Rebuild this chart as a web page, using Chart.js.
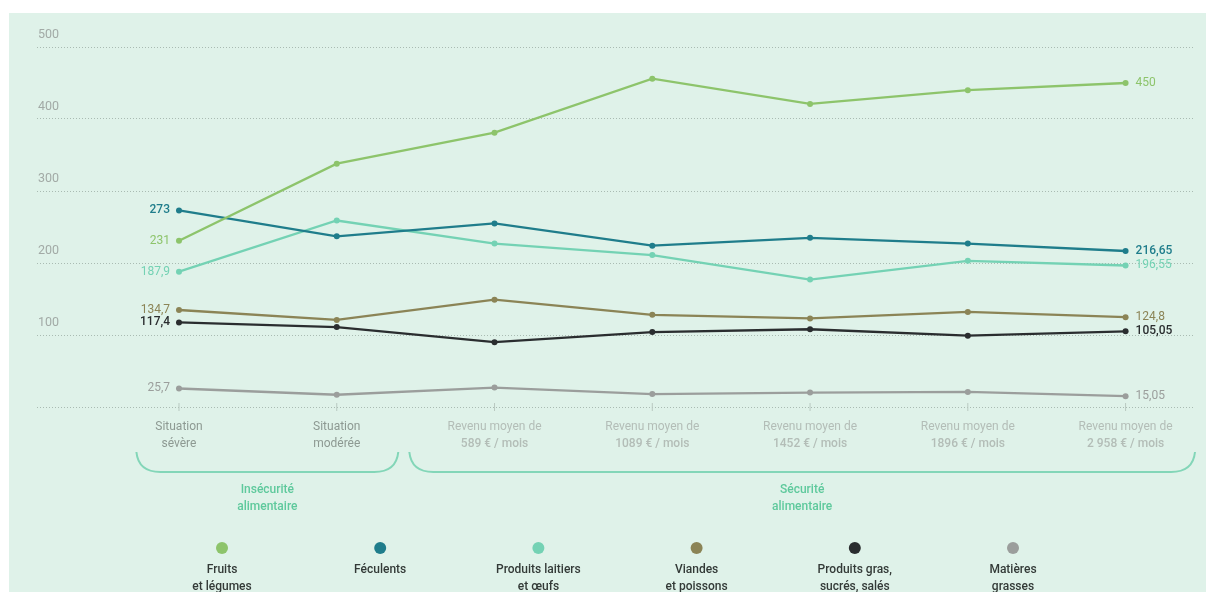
<!DOCTYPE html>
<html>
<head>
<meta charset="utf-8">
<script src="https://cdn.jsdelivr.net/npm/chart.js@4/dist/chart.umd.min.js"></script>
<style>
  html, body { margin: 0; padding: 0; background: #fff; }
  #wrap { width: 1206px; height: 592px; position: relative; }
</style>
</head>
<body>
<div id="wrap"><canvas id="budgetChart" width="1206" height="592"></canvas></div>
<script>
// DATA
const categories = [
  ["Situation", "sévère"],
  ["Situation", "modérée"],
  ["Revenu moyen de", "589 € / mois"],
  ["Revenu moyen de", "1089 € / mois"],
  ["Revenu moyen de", "1452 € / mois"],
  ["Revenu moyen de", "1896 € / mois"],
  ["Revenu moyen de", "2 958 € / mois"],
];
const fruitsLegumes = [231, 338, 381, 456, 421, 440, 450];
const feculents = [273, 237, 255, 224, 235, 227, 216.65];
const produitsLaitiers = [187.9, 259, 227, 211, 177, 203, 196.55];
const viandesPoissons = [134.7, 121, 149, 128, 123, 132, 124.8];
const produitsGras = [117.4, 111, 90, 104, 108, 99, 105.05];
const matieresGrasses = [25.7, 17, 27, 18, 20, 21, 15.05];
const yTicks = [0, 100, 200, 300, 400, 500];
const groups = [
  { label: ["Insécurité", "alimentaire"], from: 0, to: 1 },
  { label: ["Sécurité", "alimentaire"], from: 2, to: 6 },
];

const FONT = "Roboto, 'DejaVu Sans', sans-serif";

function mk(name, values, color, bold) {
  return {
    label: name,
    data: values.map((v, i) => ({ x: i, y: v })),
    borderColor: color,
    backgroundColor: color,
    borderWidth: 2.3,
    pointRadius: 3,
    pointBorderWidth: 0,
    tension: 0,
    boldEnds: bold,
  };
}

const datasets = [
  mk(["Fruits", "et légumes"], fruitsLegumes, "#8dc46b", false),
  mk(["Féculents"], feculents, "#1f7d8b", true),
  mk(["Produits laitiers", "et œufs"], produitsLaitiers, "#74d2b4", false),
  mk(["Viandes", "et poissons"], viandesPoissons, "#8b8456", false),
  mk(["Produits gras,", "sucrés, salés"], produitsGras, "#2a2d2f", true),
  mk(["Matières", "grasses"], matieresGrasses, "#9b9e9c", false),
];

function fmt(v) {
  return String(v).replace(".", ",");
}

// fond vert clair
const bgPlugin = {
  id: "bg",
  beforeDraw(chart) {
    const c = chart.ctx;
    c.save();
    c.fillStyle = "#fff";
    c.fillRect(0, 0, chart.width, chart.height);
    c.fillStyle = "#dff2e9";
    c.fillRect(9, 13, chart.width - 9, chart.height - 13);
    c.restore();
  },
};

// étiquettes, accolades, légende
const decoPlugin = {
  id: "deco",
  afterDatasetsDraw(chart) {
    const c = chart.ctx;
    const xs = chart.scales.x;
    const ys = chart.scales.y;
    const bottom = chart.chartArea.bottom;
    c.save();

    // petites marques sur l'axe
    c.strokeStyle = "#b9c9c1";
    c.lineWidth = 1;
    categories.forEach((_, i) => {
      const x = xs.getPixelForValue(i);
      c.beginPath();
      c.moveTo(x, bottom - 4);
      c.lineTo(x, bottom + 4);
      c.stroke();
    });

    // libellés de l'axe x
    c.textAlign = "center";
    c.textBaseline = "middle";
    categories.forEach((lab, i) => {
      const x = xs.getPixelForValue(i);
      const col = i < 2 ? "#8d9992" : "#b3bdb7";
      c.fillStyle = col;
      c.font = "400 12px " + FONT;
      c.fillText(lab[0], x, 427);
      c.font = (i < 2 ? "400" : "500") + " 12px " + FONT;
      c.fillText(lab[1], x, 444);
    });

    // accolades
    const step = xs.getPixelForValue(1) - xs.getPixelForValue(0);
    const ends = [[-0.27, 0.39], [-0.54, 0.44]];
    c.strokeStyle = "#83d6b8";
    c.lineWidth = 2;
    groups.forEach((g, gi) => {
      const x0 = xs.getPixelForValue(g.from) + ends[gi][0] * step;
      const x1 = Math.min(xs.getPixelForValue(g.to) + ends[gi][1] * step, chart.chartArea.right);
      const yTop = 452, yBot = 472;
      c.beginPath();
      c.moveTo(x0, yTop);
      c.quadraticCurveTo(x0 + 2, yBot, x0 + 24, yBot);
      c.lineTo(x1 - 24, yBot);
      c.quadraticCurveTo(x1 - 2, yBot, x1, yTop);
      c.stroke();
      const cx = (x0 + x1) / 2;
      c.fillStyle = "#5ec99c";
      c.font = "500 12px " + FONT;
      c.fillText(g.label[0], cx, 490);
      c.fillText(g.label[1], cx, 507);
    });

    // valeurs de début et de fin
    chart.data.datasets.forEach((ds) => {
      const first = ds.data[0];
      const last = ds.data[ds.data.length - 1];
      c.fillStyle = ds.borderColor;
      c.font = (ds.boldEnds ? "500" : "400") + " 12px " + FONT;
      c.textAlign = "right";
      c.fillText(fmt(first.y), xs.getPixelForValue(first.x) - 9, ys.getPixelForValue(first.y));
      c.textAlign = "left";
      c.fillText(fmt(last.y), xs.getPixelForValue(last.x) + 10, ys.getPixelForValue(last.y));
    });

    // légende
    c.textAlign = "center";
    chart.data.datasets.forEach((ds, i) => {
      const x = 222 + i * 158.2;
      c.fillStyle = ds.borderColor;
      c.beginPath();
      c.arc(x, 548, 6, 0, Math.PI * 2);
      c.fill();
      c.fillStyle = "#333a37";
      c.font = "500 12px " + FONT;
      ds.label.forEach((t, k) => c.fillText(t, x, 570 + k * 17));
    });

    c.restore();
  },
};

const ctx = document.getElementById("budgetChart").getContext("2d");
new Chart(ctx, {
  type: "line",
  data: { datasets: datasets },
  options: {
    responsive: false,
    devicePixelRatio: 1,
    animation: false,
    layout: { padding: { left: 37, right: 11, top: 47, bottom: 0 } },
    plugins: { legend: { display: false }, tooltip: { enabled: false } },
    scales: {
      x: {
        type: "linear",
        min: -0.9,
        max: 6.44,
        grid: { display: false },
        border: { display: false },
        ticks: { display: false },
        afterFit: (s) => { s.height = 185; },
      },
      y: {
        min: 0,
        max: 500,
        afterBuildTicks: (s) => { s.ticks = yTicks.map((v) => ({ value: v })); },
        afterFit: (s) => { s.width = 0; },
        border: { display: false, dash: [1, 2] },
        grid: {
          color: "#a9bbb2",
          lineWidth: 1,
          drawTicks: false,
        },
        ticks: {
          mirror: true,
          padding: 1,
          labelOffset: -12,
          color: "#a2aaa6",
          font: { family: FONT, size: 12.5 },
          callback: (v) => (v === 0 ? "" : v),
        },
      },
    },
  },
  plugins: [bgPlugin, decoPlugin],
});
</script>
</body>
</html>
